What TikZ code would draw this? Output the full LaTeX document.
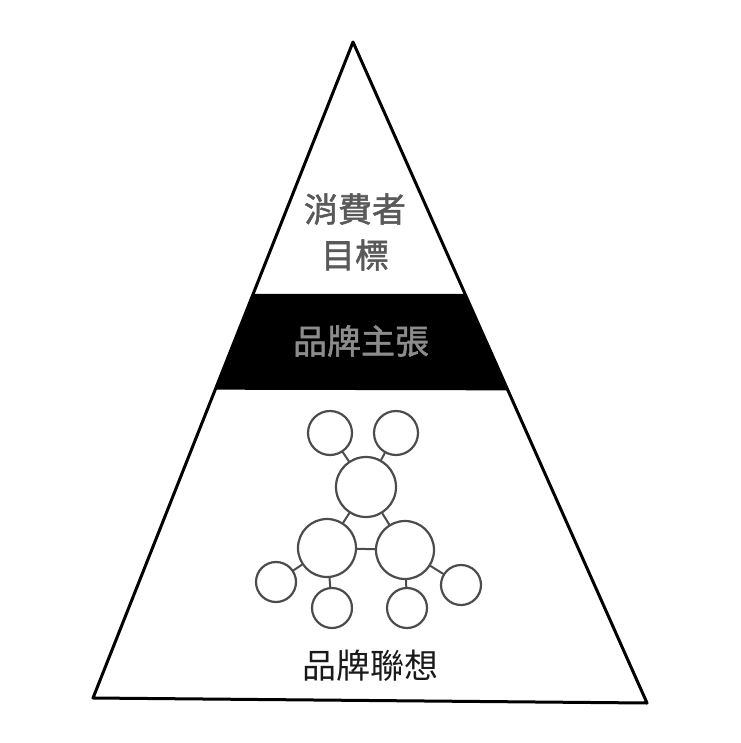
\documentclass[tikz,border=0pt]{standalone}
\usepackage{fontspec}
\newfontfamily\cjk{Noto Sans CJK TC}
\newfontfamily\cjkb[FakeBold=1.6]{Noto Sans CJK TC}
\usetikzlibrary{calc}

\begin{document}
\begin{tikzpicture}[line cap=round,line join=round,x=1pt,y=-1pt, thick, bub/.style={circle, draw=black!70, line width=2.2pt, inner sep=0pt, fill=white}, lbl/.style={font=\cjk\fontsize{34}{46}\selectfont, align=center}]
                    \useasboundingbox (0,0) rectangle (740,743);

                    \coordinate (apex) at (353,42);
                    \coordinate (bl) at (93,698);
                    \coordinate (br) at (647,703);

                    % black band
                    \fill ($(apex)!0.384!(bl)$) -- ($(apex)!0.381!(br)$) -- ($(apex)!0.527!(br)$) -- ($(apex)!0.53!(bl)$) -- cycle;
                    \draw [line width=3pt] (apex) -- (bl) -- (br) -- cycle;

                    \node[lbl, font=\cjkb\fontsize{34}{46}\selectfont, text=black!65] (goal) at (355,232) {消費者\\目標};
                    \node[lbl, font=\cjkb\fontsize{34}{46}\selectfont, text=black!45] (claim) at (361,341) {品牌主張};
                    \node[lbl, text=black!90] (assoc) at (370,666) {品牌聯想};

                    % network
                    \node[bub, minimum size=44pt] (1) at (330,433) {};
                    \node[bub, minimum size=44pt] (2) at (396,433) {};
                    \node[bub, minimum size=60pt] (3) at (366,487) {};
                    \node[bub, minimum size=58pt] (4) at (327,548) {};
                    \node[bub, minimum size=58pt] (5) at (405,550) {};
                    \node[bub, minimum size=40pt] (6) at (276,582) {};
                    \node[bub, minimum size=40pt] (7) at (332,608) {};
                    \node[bub, minimum size=40pt] (8) at (407,608) {};
                    \node[bub, minimum size=40pt] (9) at (461,585) {};
                    \draw [line width=2pt, black!70] (1) -- (3) (2) -- (3) (3) -- (4) (3) -- (5) (4) -- (5);
                    \draw [line width=2pt, black!70] (4) -- (6) (4) -- (7) (5) -- (8) (5) -- (9);
                \end{tikzpicture}
\end{document}
